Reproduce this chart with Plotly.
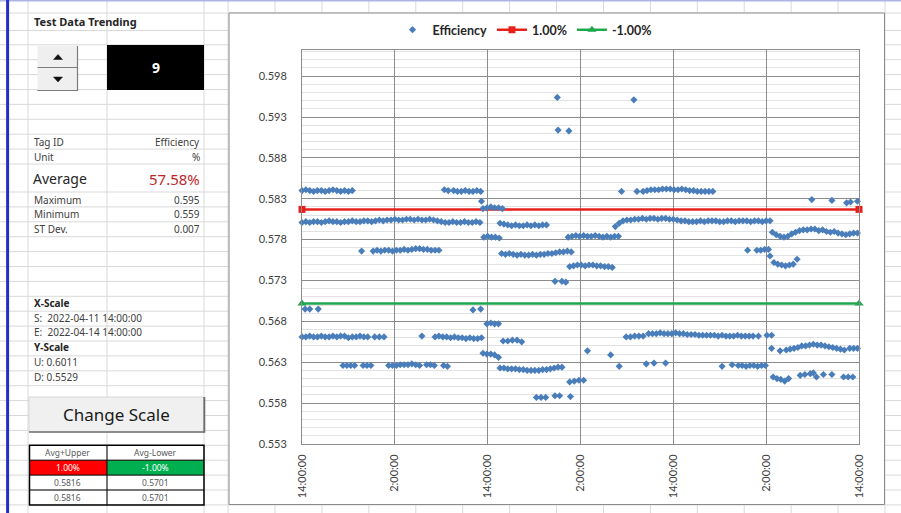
import pandas as pd
import plotly.graph_objects as go

# ---------------------------------------------------------------- data
START = pd.Timestamp("2022-04-11 14:00:00")
END = pd.Timestamp("2022-04-14 14:00:00")

# Efficiency readings stored as runs:
# (hours after START of first reading, hours between readings, readings)
eff_runs_upper = [
    (0.0, 0.5, [0.5839, 0.5840, 0.5839, 0.5838, 0.5839, 0.5839, 0.5838, 0.5839, 0.5840, 0.5839,
                0.5838, 0.5839, 0.5838, 0.5839]),
    (0.0, 0.5, [0.5800, 0.5801, 0.5800, 0.5801, 0.5801, 0.5800, 0.5801, 0.5802, 0.5801, 0.5801,
                0.5800, 0.5801, 0.5801, 0.5802, 0.5801, 0.5801, 0.5802, 0.5802, 0.5801, 0.5802,
                0.5803, 0.5802, 0.5803, 0.5803, 0.5804, 0.5803, 0.5803, 0.5804, 0.5804, 0.5803,
                0.5804, 0.5803, 0.5803, 0.5804, 0.5803, 0.5802, 0.5801, 0.5800, 0.5800, 0.5801,
                0.5800, 0.5800, 0.5801, 0.5800, 0.5800, 0.5801, 0.5800]),
    (9.2, 0.5, [0.5765, 0.5766, 0.5765, 0.5766, 0.5766, 0.5765, 0.5766, 0.5766, 0.5767, 0.5766,
                0.5767, 0.5768, 0.5768, 0.5767, 0.5767, 0.5766, 0.5766, 0.5766]),
    (19.6, 0.5, [0.5839, 0.5838, 0.5838, 0.5839, 0.5838, 0.5838, 0.5839, 0.5838]),
    (23.4, 0.5, [0.5817, 0.5818, 0.5819, 0.5818, 0.5818, 0.5817]),
    (23.5, 0.5, [0.5782, 0.5783, 0.5782, 0.5782, 0.5781]),
    (25.6, 0.5, [0.5799, 0.5798, 0.5797, 0.5796, 0.5797, 0.5796, 0.5796, 0.5797, 0.5796, 0.5797,
                 0.5796, 0.5797, 0.5797]),
    (25.8, 0.5, [0.5762, 0.5761, 0.5762, 0.5761, 0.5760, 0.5761, 0.5760, 0.5760, 0.5761, 0.5760,
                 0.5761, 0.5761, 0.5762, 0.5762, 0.5763, 0.5764, 0.5764, 0.5765, 0.5764]),
    (34.6, 0.5, [0.5746, 0.5747, 0.5748, 0.5748, 0.5747, 0.5748, 0.5748, 0.5747, 0.5747, 0.5746,
                 0.5746, 0.5745]),
    (34.4, 0.5, [0.5782, 0.5783, 0.5784, 0.5783, 0.5784, 0.5783, 0.5783, 0.5784, 0.5783, 0.5782,
                 0.5783, 0.5782, 0.5783, 0.5783]),
    (40.5, 0.5, [0.5795, 0.5799, 0.5802, 0.5803, 0.5803, 0.5804, 0.5804, 0.5805, 0.5804, 0.5805,
                 0.5805, 0.5804, 0.5805, 0.5805, 0.5804, 0.5804, 0.5803, 0.5802, 0.5802, 0.5801,
                 0.5801, 0.5801, 0.5802, 0.5801, 0.5802, 0.5802, 0.5802, 0.5801, 0.5801, 0.5802,
                 0.5802, 0.5801, 0.5802, 0.5802, 0.5802, 0.5801, 0.5802, 0.5802, 0.5801, 0.5802,
                 0.5802]),
    (44.1, 0.5, [0.5838, 0.5839, 0.5840, 0.5840, 0.5840, 0.5841, 0.5841, 0.5841, 0.5840, 0.5840,
                 0.5841, 0.5840, 0.5839, 0.5839, 0.5838, 0.5838, 0.5838, 0.5838, 0.5838]),
    (58.8, 0.5, [0.5766, 0.5766, 0.5767, 0.5767]),
    (60.5, 0.5, [0.5759, 0.5751, 0.5749, 0.5748, 0.5747, 0.5748, 0.5749, 0.5755]),
    (60.8, 0.5, [0.5788, 0.5785, 0.5783, 0.5782, 0.5783, 0.5786, 0.5788, 0.5790, 0.5791, 0.5791,
                 0.5792, 0.5792, 0.5790, 0.5791, 0.5789, 0.5788, 0.5789, 0.5787, 0.5786, 0.5785,
                 0.5786, 0.5787, 0.5787]),
]

eff_runs_lower = [
    (0.0, 0.5, [0.5660, 0.5660, 0.5661, 0.5660, 0.5660, 0.5661, 0.5660, 0.5660, 0.5661, 0.5660,
                0.5661, 0.5661, 0.5659, 0.5660, 0.5660, 0.5661, 0.5660, 0.5660]),
    (9.4, 0.6, [0.5660, 0.5660, 0.5660]),
    (5.3, 0.5, [0.5625, 0.5625, 0.5625, 0.5625]),
    (7.9, 0.5, [0.5625, 0.5625, 0.5625]),
    (11.2, 0.5, [0.5625, 0.5625, 0.5625, 0.5626, 0.5626, 0.5626, 0.5627, 0.5626, 0.5625]),
    (16.1, 0.5, [0.5626, 0.5626, 0.5625]),
    (18.3, 0.5, [0.5625, 0.5624]),
    (17.2, 0.5, [0.5660, 0.5661, 0.5660, 0.5660, 0.5659, 0.5660, 0.5659, 0.5659, 0.5658, 0.5659,
                 0.5658, 0.5658, 0.5659]),
    (23.9, 0.5, [0.5676, 0.5677, 0.5676, 0.5676]),
    (23.4, 0.5, [0.5640, 0.5639, 0.5639, 0.5638, 0.5635]),
    (26.0, 0.6, [0.5655, 0.5655, 0.5656, 0.5656, 0.5654]),
    (25.6, 0.5, [0.5622, 0.5622, 0.5621, 0.5621, 0.5621, 0.5620, 0.5620, 0.5619, 0.5619, 0.5619,
                 0.5619, 0.5620, 0.5620, 0.5621, 0.5622, 0.5623, 0.5623]),
    (30.3, 0.6, [0.5586, 0.5586, 0.5586]),
    (32.7, 0.6, [0.5588, 0.5588]),
    (34.6, 0.6, [0.5605, 0.5606, 0.5607, 0.5607]),
    (41.9, 0.55, [0.5660, 0.5660, 0.5661, 0.5661, 0.5661]),
    (44.8, 0.5, [0.5664, 0.5664, 0.5664, 0.5665, 0.5664, 0.5664, 0.5664, 0.5665, 0.5664, 0.5664,
                 0.5663, 0.5663, 0.5663, 0.5662, 0.5662, 0.5662, 0.5662, 0.5662, 0.5661, 0.5662,
                 0.5661, 0.5661, 0.5661, 0.5662, 0.5661, 0.5661, 0.5661, 0.5661]),
    (60.1, 0.6, [0.5662, 0.5662]),
    (56.4, 0.5, [0.5625, 0.5625, 0.5624, 0.5625, 0.5625, 0.5624, 0.5625, 0.5625]),
    (62.6, 0.5, [0.5644, 0.5645, 0.5646, 0.5647, 0.5649, 0.5649, 0.5650, 0.5651, 0.5650, 0.5650,
                 0.5649, 0.5648, 0.5647, 0.5646, 0.5645, 0.5644]),
    (70.8, 0.5, [0.5646, 0.5646, 0.5646]),
    (60.9, 0.5, [0.5611, 0.5609, 0.5608, 0.5606, 0.5609]),
    (70.0, 0.6, [0.5611, 0.5611, 0.5611]),
]

# isolated readings: (hours after START, reading)
eff_singles = [
    (7.7, 0.5765), (18.4, 0.5840), (18.9, 0.5839), (23.2, 0.5826),
    (32.7, 0.5728), (33.6, 0.5728), (34.1, 0.5727),
    (33.0, 0.5953), (42.9, 0.5950), (33.1, 0.5913), (34.5, 0.5912),
    (41.3, 0.5838), (43.3, 0.5838), (57.6, 0.5766),
    (65.9, 0.5828), (68.5, 0.5827), (70.4, 0.5824), (70.9, 0.5825), (71.8, 0.5826),
    (0.4, 0.5694), (1.0, 0.5694), (2.1, 0.5694), (15.5, 0.5661), (22.1, 0.5693), (23.1, 0.5694),
    (34.7, 0.5587), (36.9, 0.5643), (39.9, 0.5638), (41.0, 0.5624), (59.0, 0.5661),
    (44.5, 0.5627), (45.5, 0.5628), (47.0, 0.5628), (54.3, 0.5624), (55.6, 0.5626),
    (60.7, 0.5646), (61.8, 0.5643),
    (64.4, 0.5613), (65.0, 0.5614), (65.7, 0.5615), (66.1, 0.5616), (66.5, 0.5611),
    (67.4, 0.5614), (68.5, 0.5614),
]

# limit bands
band_pct = [1.00, -1.00]
band_values = [0.5816, 0.5701]

# summary block
tag_id = "Efficiency"
unit = "%"
average_text = "57.58%"
stat_names = ["Maximum", "Minimum", "ST Dev."]
stat_values = ["0.595", "0.559", "0.007"]
spin_value = "9"

# axes
y_min, y_max = 0.5529, 0.6011
y_tick_vals = [0.5529, 0.5579, 0.5629, 0.5679, 0.5729, 0.5779, 0.5829, 0.5879, 0.5929, 0.5979]
y_tick_text = ["0.553", "0.558", "0.563", "0.568", "0.573", "0.578", "0.583", "0.588", "0.593", "0.598"]
x_tick_hours = [0, 12, 24, 36, 48, 60, 72]
x_tick_text = ["14:00:00", "2:00:00", "14:00:00", "2:00:00", "14:00:00", "2:00:00", "14:00:00"]

# ---------------------------------------------------------------- build series
eff_x, eff_y = [], []
for start, step, vals in eff_runs_upper + eff_runs_lower:
    for i, v in enumerate(vals):
        eff_x.append(START + pd.Timedelta(hours=start + i * step))
        eff_y.append(v)
for h, v in eff_singles:
    eff_x.append(START + pd.Timedelta(hours=h))
    eff_y.append(v)

# ---------------------------------------------------------------- page geometry (px)
W, H = 901, 513
PL, PR, PT, PB = 302, 859, 50, 444


def px(x):
    return (x - PL) / (PR - PL)


def py(y):
    return (PB - y) / (PB - PT)


shapes = []
annotations = []


def hline(y, x0, x1, color, width=1):
    shapes.append(dict(type="line", xref="paper", yref="paper", x0=px(x0), x1=px(x1),
                       y0=py(y), y1=py(y), line=dict(color=color, width=width), layer="below"))


def vline(x, y0, y1, color, width=1):
    shapes.append(dict(type="line", xref="paper", yref="paper", x0=px(x), x1=px(x),
                       y0=py(y0), y1=py(y1), line=dict(color=color, width=width), layer="below"))


def box(x0, y0, x1, y1, fill, edge=None, width=0):
    shapes.append(dict(type="rect", xref="paper", yref="paper", x0=px(x0), x1=px(x1),
                       y0=py(y0), y1=py(y1), fillcolor=fill,
                       line=dict(color=edge or fill, width=width), layer="below"))


def poly(points, fill):
    d = "M " + " L ".join(f"{px(a):.5f},{py(b):.5f}" for a, b in points) + " Z"
    shapes.append(dict(type="path", xref="paper", yref="paper", path=d, fillcolor=fill,
                       line=dict(color=fill, width=0.5), layer="below"))


def text(x, y, s, size=10, color="#404040", anchor="left", bold=False, family="Noto Sans"):
    annotations.append(dict(xref="paper", yref="paper", x=px(x), y=py(y), text=s,
                            showarrow=False, xanchor=anchor, yanchor="middle",
                            font=dict(family=family, size=size, color=color,
                                      weight="bold" if bold else "normal")))


# worksheet grid
SHEET = "#D9D9D9"
row_lines = [13, 30.5, 44.8, 59.7, 74.6, 89.5, 104.4, 119.3, 134.2, 149.1, 164]
row_lines += [192 + 14.9 * k for k in range(22)]
col_lines = [28, 107, 204] + [228.1 + 46.92 * k for k in range(15)]
for y in row_lines:
    hline(y, 0, W, SHEET)
for x in col_lines:
    vline(x, 0, H, SHEET)
hline(0.8, 0, W, "#AEB4E6", 1.5)
vline(7.6, 0, H, "#2430C0", 3)

# chart area
box(229, 13, 884.5, 504.5, "white", "#8A8A8A", 1)

# spin button
for y0, y1, up in [(46, 68, True), (68, 91, False)]:
    box(37.5, y0, 78, y1, "#EFEFEF", "#EFEFEF", 0)
    hline(y1 - 0.5, 37.5, 78, "#7A7A7A", 1.2)
    vline(77.5, y0, y1, "#7A7A7A", 1.2)
    cy = (y0 + y1) / 2
    if up:
        poly([(53.5, cy + 2.5), (62.5, cy + 2.5), (58, cy - 2.5)], "#111111")
    else:
        poly([(53.5, cy - 2.5), (62.5, cy - 2.5), (58, cy + 2.5)], "#111111")
box(107, 45, 204, 90, "black")
text(155.5, 67.5, spin_value, size=14, color="white", anchor="center", bold=True)

# Change Scale button
box(29, 397, 204.5, 432, "#F0F0F0", "#D6D6D6", 1)
vline(204.3, 397, 432.5, "#6E6E6E", 2)
hline(432, 29, 205, "#6E6E6E", 1.5)

# limits table
box(29.5, 460.2, 107, 475.1, "#FF0000")
box(107, 460.2, 204, 475.1, "#00B050")
for y in [460.2, 475.1, 490]:
    hline(y, 29.5, 204, "black", 1)
vline(107, 445.3, 504.9, "black", 1)
shapes.append(dict(type="rect", xref="paper", yref="paper", x0=px(29.5), x1=px(204),
                   y0=py(445.3), y1=py(504.9), line=dict(color="black", width=1.5),
                   fillcolor="rgba(0,0,0,0)", layer="below"))

# panel text
text(32, 21.5, "Test Data Trending", size=11, color="#262626", bold=True)
text(32, 141.5, "Tag ID")
text(202, 141.5, tag_id, anchor="right")
text(32, 156.5, "Unit")
text(202, 156.5, unit, anchor="right")
text(31, 178.5, "Average", size=14, color="#262626")
text(202, 178.5, average_text, size=15, color="#C0272D", anchor="right")
for i, (n, v) in enumerate(zip(stat_names, stat_values)):
    yy = 199.5 + 14.5 * i
    text(32, yy, n)
    text(202, yy, v, anchor="right")
text(32, 302.5, "X-Scale", bold=True, color="#262626")
text(32, 317.5, f"S:  {START:%Y-%m-%d %H:%M:%S}")
text(32, 332, f"E:  {END:%Y-%m-%d %H:%M:%S}")
text(32, 347, "Y-Scale", bold=True, color="#262626")
text(32, 362, f"U: {y_max:.4f}")
text(32, 376.5, f"D: {y_min:.4f}")
text(116.5, 414.5, "Change Scale", size=17, color="#1A1A1A", anchor="center")
text(68, 452.5, "Avg+Upper", size=8.5, color="#595959", anchor="center")
text(155.5, 452.5, "Avg-Lower", size=8.5, color="#595959", anchor="center")
text(68, 467.5, f"{band_pct[0]:.2f}%", size=8.5, color="white", anchor="center")
text(155.5, 467.5, f"{band_pct[1]:.2f}%", size=8.5, color="white", anchor="center")
for yy in [482.5, 497.5]:
    text(68, yy, f"{band_values[0]:.4f}", size=8.5, color="#595959", anchor="center")
    text(155.5, yy, f"{band_values[1]:.4f}", size=8.5, color="#595959", anchor="center")

# ---------------------------------------------------------------- figure
fig = go.Figure()
band_colors = ["#E8201C", "#1FA94E"]
band_symbols = ["square", "triangle-up"]
band_sizes = [7, 8]
for k in range(2):
    fig.add_trace(go.Scatter(
        x=[START, END], y=[band_values[k], band_values[k]], mode="lines+markers",
        name=f"{band_pct[k]:.2f}%", legendrank=2 + k, cliponaxis=False,
        line=dict(color=band_colors[k], width=2.5),
        marker=dict(symbol=band_symbols[k], size=band_sizes[k], color=band_colors[k]),
    ))
fig.add_trace(go.Scatter(
    x=eff_x, y=eff_y, mode="markers", name="Efficiency", legendrank=1, cliponaxis=False,
    marker=dict(symbol="diamond", size=5.5, color="#4A7EBB"),
))

MAJOR = "#8C8C8C"
tickfont = dict(family="Lato", size=11, color="#404040")
fig.update_layout(
    width=W, height=H, autosize=False,
    margin=dict(l=PL, r=W - PR, t=PT, b=H - PB, pad=0),
    paper_bgcolor="white", plot_bgcolor="rgba(0,0,0,0)",
    shapes=shapes, annotations=annotations,
    showlegend=True,
    legend=dict(orientation="h", x=px(525), xanchor="center", y=py(30), yanchor="middle",
                bgcolor="rgba(0,0,0,0)", itemwidth=30,
                font=dict(family="Lato", size=12.5, color="#262626", weight="bold")),
    xaxis=dict(
        type="date", range=[str(START), str(END)], tickmode="array",
        tickvals=[START + pd.Timedelta(hours=h) for h in x_tick_hours], ticktext=x_tick_text,
        tickangle=-90, ticks="", ticklabelstandoff=5, tickfont=tickfont,
        showgrid=True, gridcolor=MAJOR, gridwidth=1, zeroline=False,
        showline=True, mirror=True, linecolor=MAJOR, linewidth=1, automargin=False,
    ),
    yaxis=dict(
        range=[y_min, y_max], tickmode="array", tickvals=y_tick_vals, ticktext=y_tick_text,
        ticks="", ticklabelstandoff=12, tickfont=tickfont,
        showgrid=True, gridcolor=MAJOR, gridwidth=1, zeroline=False,
        minor=dict(tickmode="linear", tick0=y_min, dtick=0.001, showgrid=True,
                   gridcolor="#E2E2E2", gridwidth=1),
        showline=True, mirror=True, linecolor=MAJOR, linewidth=1, automargin=False,
    ),
)

fig.write_html("out.html")
